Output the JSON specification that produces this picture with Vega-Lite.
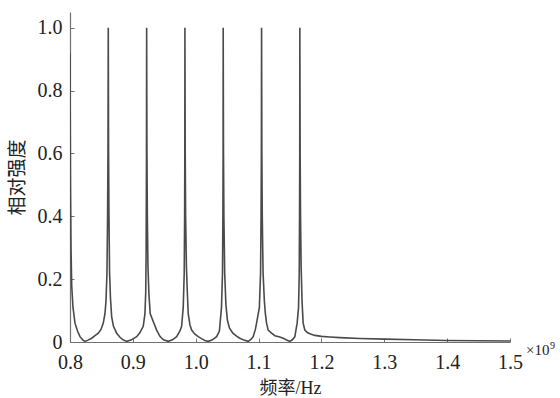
{
  "$schema": "https://vega.github.io/schema/vega-lite/v6.json",
  "autosize": {"type": "none"},
  "padding": {"left": 70, "top": 12, "right": 50, "bottom": 56},
  "width": 440,
  "height": 330,
  "background": "white",
  "config": {"view": {"stroke": null}},
  "datasets": {
    "spec": [
      {"f": 0.8, "v": 0.92}, {"f": 0.80079, "v": 0.5}, {"f": 0.80159, "v": 0.3}, {"f": 0.8027, "v": 0.18}, {"f": 0.80477, "v": 0.11}, {"f": 0.80795, "v": 0.06}, {"f": 0.81192, "v": 0.035}, {"f": 0.8159, "v": 0.017}, {"f": 0.82067, "v": 0.006}, {"f": 0.82385, "v": 0.002}, {"f": 0.82862, "v": 0.006}, {"f": 0.8345, "v": 0.012}, {"f": 0.83975, "v": 0.02}, {"f": 0.84499, "v": 0.028}, {"f": 0.84928, "v": 0.04}, {"f": 0.85294, "v": 0.06}, {"f": 0.85564, "v": 0.09}, {"f": 0.85723, "v": 0.13}, {"f": 0.85882, "v": 0.22}, {"f": 0.85978, "v": 0.4}, {"f": 0.86041, "v": 0.6}, {"f": 0.86089, "v": 1.0},
      {"f": 0.86137, "v": 0.6}, {"f": 0.862, "v": 0.4}, {"f": 0.86296, "v": 0.22}, {"f": 0.86439, "v": 0.14}, {"f": 0.8663, "v": 0.08}, {"f": 0.86916, "v": 0.05}, {"f": 0.87425, "v": 0.028}, {"f": 0.87949, "v": 0.015}, {"f": 0.88506, "v": 0.006}, {"f": 0.89014, "v": 0.002}, {"f": 0.89698, "v": 0.006}, {"f": 0.90604, "v": 0.017}, {"f": 0.91129, "v": 0.03}, {"f": 0.91653, "v": 0.05}, {"f": 0.91924, "v": 0.09}, {"f": 0.92051, "v": 0.16}, {"f": 0.92114, "v": 0.3}, {"f": 0.92162, "v": 0.55}, {"f": 0.92194, "v": 1.0},
      {"f": 0.92242, "v": 0.6}, {"f": 0.92305, "v": 0.4}, {"f": 0.92401, "v": 0.24}, {"f": 0.9256, "v": 0.15}, {"f": 0.92766, "v": 0.09}, {"f": 0.93243, "v": 0.065}, {"f": 0.93784, "v": 0.038}, {"f": 0.94308, "v": 0.018}, {"f": 0.94865, "v": 0.007}, {"f": 0.95628, "v": 0.002}, {"f": 0.96296, "v": 0.007}, {"f": 0.96963, "v": 0.017}, {"f": 0.97488, "v": 0.035}, {"f": 0.97758, "v": 0.05}, {"f": 0.98013, "v": 0.11}, {"f": 0.98172, "v": 0.22}, {"f": 0.98235, "v": 0.4}, {"f": 0.98267, "v": 0.6}, {"f": 0.98283, "v": 1.0},
      {"f": 0.98331, "v": 0.6}, {"f": 0.98394, "v": 0.4}, {"f": 0.98521, "v": 0.24}, {"f": 0.98649, "v": 0.166}, {"f": 0.98808, "v": 0.09}, {"f": 0.99078, "v": 0.055}, {"f": 0.99348, "v": 0.038}, {"f": 0.99873, "v": 0.025}, {"f": 1.00397, "v": 0.017}, {"f": 1.00986, "v": 0.01}, {"f": 1.01463, "v": 0.005}, {"f": 1.01987, "v": 0.002}, {"f": 1.02576, "v": 0.006}, {"f": 1.03323, "v": 0.017}, {"f": 1.03768, "v": 0.035}, {"f": 1.04102, "v": 0.11}, {"f": 1.04261, "v": 0.22}, {"f": 1.04324, "v": 0.4}, {"f": 1.04356, "v": 0.6}, {"f": 1.04372, "v": 1.0},
      {"f": 1.0442, "v": 0.6}, {"f": 1.04483, "v": 0.4}, {"f": 1.0461, "v": 0.22}, {"f": 1.04801, "v": 0.12}, {"f": 1.0504, "v": 0.07}, {"f": 1.05358, "v": 0.045}, {"f": 1.05914, "v": 0.028}, {"f": 1.0655, "v": 0.018}, {"f": 1.07027, "v": 0.012}, {"f": 1.07663, "v": 0.006}, {"f": 1.08347, "v": 0.002}, {"f": 1.08776, "v": 0.008}, {"f": 1.09142, "v": 0.017}, {"f": 1.09491, "v": 0.04}, {"f": 1.09682, "v": 0.06}, {"f": 1.10127, "v": 0.11}, {"f": 1.10318, "v": 0.22}, {"f": 1.10397, "v": 0.4}, {"f": 1.10445, "v": 0.6}, {"f": 1.10477, "v": 1.0},
      {"f": 1.10525, "v": 0.6}, {"f": 1.10588, "v": 0.4}, {"f": 1.10715, "v": 0.22}, {"f": 1.10922, "v": 0.13}, {"f": 1.11081, "v": 0.09}, {"f": 1.11272, "v": 0.06}, {"f": 1.11526, "v": 0.038}, {"f": 1.12067, "v": 0.028}, {"f": 1.12591, "v": 0.02}, {"f": 1.13386, "v": 0.016}, {"f": 1.14022, "v": 0.011}, {"f": 1.14452, "v": 0.006}, {"f": 1.14976, "v": 0.002}, {"f": 1.15374, "v": 0.007}, {"f": 1.15771, "v": 0.017}, {"f": 1.16137, "v": 0.06}, {"f": 1.16359, "v": 0.11}, {"f": 1.16471, "v": 0.22}, {"f": 1.16518, "v": 0.4}, {"f": 1.1655, "v": 0.6}, {"f": 1.16566, "v": 1.0},
      {"f": 1.16614, "v": 0.6}, {"f": 1.16677, "v": 0.4}, {"f": 1.16773, "v": 0.24}, {"f": 1.16916, "v": 0.13}, {"f": 1.17091, "v": 0.06}, {"f": 1.17361, "v": 0.038}, {"f": 1.17758, "v": 0.03}, {"f": 1.18156, "v": 0.026}, {"f": 1.18951, "v": 0.021}, {"f": 1.20016, "v": 0.018}, {"f": 1.21335, "v": 0.016}, {"f": 1.22925, "v": 0.014}, {"f": 1.26105, "v": 0.011}, {"f": 1.30079, "v": 0.009}, {"f": 1.34849, "v": 0.007}, {"f": 1.39889, "v": 0.005}, {"f": 1.45183, "v": 0.004}, {"f": 1.5, "v": 0.003}
    ],
    "note": [{"f": 1.5, "v": 0}]
  },
  "layer": [
    {
      "data": {"name": "spec"},
      "mark": {"type": "line", "color": "#4a4a4a", "strokeWidth": 1.6, "interpolate": "linear", "clip": true},
      "encoding": {
        "x": {
          "field": "f", "type": "quantitative",
          "scale": {"domain": [0.8, 1.5], "nice": false, "zero": false},
          "axis": {
            "values": [0.8, 0.9, 1.0, 1.1, 1.2, 1.3, 1.4, 1.5],
            "format": ".1f",
            "grid": false,
            "domainColor": "#707070", "domainWidth": 1.2,
            "tickColor": "#707070", "tickSize": -4, "tickWidth": 1,
            "labelFont": "Liberation Serif", "labelFontSize": 20, "labelColor": "#222", "labelPadding": 14,
            "labelFlush": false,
            "title": "频率/Hz",
            "titleFont": "Liberation Serif, Noto Sans CJK SC", "titleFontSize": 18, "titleFontWeight": "normal", "titleColor": "#222", "titlePadding": 7
          }
        },
        "y": {
          "field": "v", "type": "quantitative",
          "scale": {"domain": [0, 1.05], "nice": false},
          "axis": {
            "values": [0, 0.2, 0.4, 0.6, 0.8, 1.0],
            "labelExpr": "datum.value == 0 ? '0' : format(datum.value, '.1f')",
            "grid": false,
            "domainColor": "#707070", "domainWidth": 1.2,
            "tickColor": "#707070", "tickSize": -4, "tickWidth": 1,
            "labelFont": "Liberation Serif", "labelFontSize": 20, "labelColor": "#222", "labelPadding": 12,
            "labelFlush": false,
            "title": "相对强度",
            "titleFont": "Liberation Serif, Noto Sans CJK SC", "titleFontSize": 19, "titleFontWeight": "normal", "titleColor": "#222", "titlePadding": 10
          }
        }
      }
    },
    {
      "data": {"name": "note"},
      "mark": {"type": "text", "text": "×10", "font": "Liberation Serif", "fontSize": 15, "color": "#222", "align": "left", "baseline": "top", "dx": 16, "dy": 1},
      "encoding": {"x": {"field": "f", "type": "quantitative"}, "y": {"field": "v", "type": "quantitative"}}
    },
    {
      "data": {"name": "note"},
      "mark": {"type": "text", "text": "9", "font": "Liberation Serif", "fontSize": 10, "color": "#222", "align": "left", "baseline": "top", "dx": 40, "dy": -1},
      "encoding": {"x": {"field": "f", "type": "quantitative"}, "y": {"field": "v", "type": "quantitative"}}
    }
  ]
}
